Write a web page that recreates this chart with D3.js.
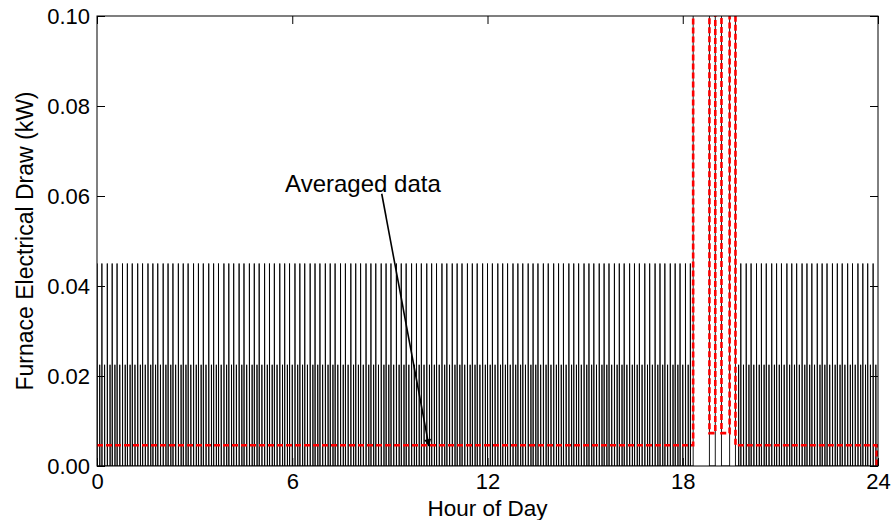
<!DOCTYPE html>
<html>
<head>
<meta charset="utf-8">
<script src="https://cdn.jsdelivr.net/npm/d3@7"></script>
<style>
  html, body { margin: 0; padding: 0; background: #fff; }
  text { font-family: "Liberation Sans", Arial, Helvetica, sans-serif; fill: #000; }
</style>
</head>
<body>
<svg id="chart" width="891" height="520"></svg>
<script>
// ---------------- DATA ----------------
// Minutes of the day at which the furnace draw spikes to the high level (~0.045 kW)
const highSpikeMinutes = [0,9,19,28,37,47,56,65,75,84,94,103,112,122,131,140,150,159,168,178,187,196,206,215,224,234,243,252,262,271,281,290,299,309,318,327,337,346,355,365,374,383,393,402,411,421,430,439,449,458,468,477,486,496,505,514,524,533,542,552,561,570,580,589,598,608,617,626,636,645,655,664,673,683,692,701,711,720,729,739,748,757,767,776,785,795,804,813,823,832,842,851,860,870,879,888,898,907,916,926,935,944,954,963,972,982,991,1000,1010,1019,1029,1038,1047,1057,1066,1075,1085,1094,
  1187,1197,1206,1216,1225,1234,1244,1253,1262,1272,1281,1290,1300,1309,1318,1328,1337,1346,1356,1365,1374,1384,1393,1403,1412,1421,1431];
// Minutes of the day at which the draw spikes to the low level (~0.0225 kW)
const lowSpikeMinutes = [5,14,24,33,42,52,61,70,80,89,99,108,117,127,136,145,155,164,173,183,192,201,211,220,229,239,248,257,267,276,286,295,304,314,323,332,342,351,360,370,379,388,398,407,416,426,435,444,454,463,473,482,491,501,510,519,529,538,547,557,566,575,585,594,603,613,622,631,641,650,660,669,678,688,697,706,716,725,734,744,753,762,772,781,790,800,809,818,828,837,847,856,865,875,884,893,903,912,921,931,940,949,959,968,977,987,996,1005,1015,1024,1034,1043,1052,1062,1071,1080,1090,
  1183,1192,1202,1211,1221,1230,1239,1249,1258,1267,1277,1286,1295,1305,1314,1323,1333,1342,1351,1361,1370,1379,1389,1398,1408,1417,1426,1436];
const highSpikeKW = 0.045;
const lowSpikeKW = 0.0225;
// Furnace running periods (hours) — draw is off the top of the chart
const furnaceOnStart = [18.32, 19.00, 19.44];
const furnaceOnEnd   = [18.82, 19.19, 19.62];
const furnaceOnKW = 0.40;
// Averaged data (step series)
const avgHours = [0, 18.32, 18.82, 19.00, 19.19, 19.44, 19.62, 23.96, 24];
const avgKW    = [0.0046, 0.40, 0.0073, 0.40, 0.0073, 0.40, 0.0046, 0, 0];
// Axes
const xTicks = [0, 6, 12, 18, 24];
const yTicks = [0, 0.02, 0.04, 0.06, 0.08, 0.10];
const xLabel = "Hour of Day";
const yLabel = "Furnace Electrical Draw (kW)";
const annotationText = "Averaged data";
const annotationTextAt = [5.78, 0.0609];   // [hour, kW]
const annotationArrowFrom = [8.75, 0.0605];
const annotationArrowTo = [10.2, 0.0044];

// ---------------- LAYOUT ----------------
(function () {
const W = 891, H = 520;
const mg = { left: 97, top: 16, right: 13, bottom: 54 };
const pw = W - mg.left - mg.right, ph = H - mg.top - mg.bottom;

const svg = d3.select("#chart");
const x = d3.scaleLinear().domain([0, 24]).range([mg.left, mg.left + pw]);
const y = d3.scaleLinear().domain([0, 0.10]).range([mg.top + ph, mg.top]);

const defs = svg.append("defs");
defs.append("clipPath").attr("id", "clip")
  .append("rect").attr("x", mg.left).attr("y", mg.top).attr("width", pw).attr("height", ph);

// Build black (raw) series
const events = [];
highSpikeMinutes.forEach(t => events.push({ t: t / 60, type: "spike", v: highSpikeKW }));
lowSpikeMinutes.forEach(t => events.push({ t: t / 60, type: "spike", v: lowSpikeKW }));
furnaceOnStart.forEach((s, i) => events.push({ t: s, type: "on", end: furnaceOnEnd[i], v: furnaceOnKW }));
events.sort((a, b) => a.t - b.t);
const raw = [{ h: 0, v: 0 }];
events.forEach(e => {
  if (e.type === "spike") {
    raw.push({ h: e.t, v: 0 }, { h: e.t, v: e.v }, { h: e.t + 0.3 / 60, v: 0 });
  } else {
    raw.push({ h: e.t, v: 0 }, { h: e.t, v: e.v }, { h: e.end, v: e.v }, { h: e.end, v: 0 });
  }
});
raw.push({ h: 24, v: 0 });

const plot = svg.append("g").attr("clip-path", "url(#clip)");
plot.append("path")
  .datum(raw)
  .attr("fill", "none")
  .attr("stroke", "#000")
  .attr("stroke-width", 0.9)
  .attr("d", d3.line().x(d => x(d.h)).y(d => y(d.v)));

const avg = avgHours.map((h, i) => ({ h, v: avgKW[i] }));
plot.append("path")
  .datum(avg)
  .attr("fill", "none")
  .attr("stroke", "#ff0000")
  .attr("stroke-width", 2.6)
  .attr("stroke-dasharray", "6,3")
  .attr("d", d3.line().curve(d3.curveStepAfter).x(d => x(d.h)).y(d => y(d.v)));

// ---------------- AXES (MATLAB-style box, inward ticks) ----------------
const tickLen = 8;
const axG = svg.append("g");
axG.append("rect").attr("x", mg.left).attr("y", mg.top).attr("width", pw).attr("height", ph)
  .attr("fill", "none").attr("stroke", "#000").attr("stroke-width", 1);

const axBottom = d3.axisBottom(x).tickValues(xTicks).tickFormat(d3.format("d"))
  .tickSizeInner(-tickLen).tickSizeOuter(0).tickPadding(7);
const gb = axG.append("g").attr("transform", `translate(0,${mg.top + ph})`).call(axBottom);
const axTop = d3.axisTop(x).tickValues(xTicks).tickFormat("").tickSizeInner(-tickLen).tickSizeOuter(0);
const gt = axG.append("g").attr("transform", `translate(0,${mg.top})`).call(axTop);
const axLeft = d3.axisLeft(y).tickValues(yTicks).tickFormat(d3.format(".2f"))
  .tickSizeInner(-tickLen).tickSizeOuter(0).tickPadding(7);
const gl = axG.append("g").attr("transform", `translate(${mg.left},0)`).call(axLeft);
const axRight = d3.axisRight(y).tickValues(yTicks).tickFormat("").tickSizeInner(-tickLen).tickSizeOuter(0);
const gr = axG.append("g").attr("transform", `translate(${mg.left + pw},0)`).call(axRight);

[gb, gt, gl, gr].forEach(g => {
  g.select(".domain").remove();
  g.selectAll(".tick line").attr("stroke", "#000");
  g.selectAll("text").style("font-size", "22px").attr("fill", "#000")
    .style("font-family", '"Liberation Sans", Arial, sans-serif');
});

// Axis titles
svg.append("text").attr("x", x(12)).attr("y", 515.5)
  .attr("text-anchor", "middle").style("font-size", "22.5px").text(xLabel);
svg.append("text")
  .attr("transform", `translate(33,${mg.top + ph / 2}) rotate(-90)`)
  .attr("text-anchor", "middle").style("font-size", "23px").text(yLabel);

// Annotation
defs.append("marker").attr("id", "arrow").attr("viewBox", "0 0 10 10")
  .attr("refX", 10).attr("refY", 5).attr("markerWidth", 10).attr("markerHeight", 7)
  .attr("markerUnits", "userSpaceOnUse").attr("orient", "auto")
  .append("path").attr("d", "M0,0 L10,5 L0,10 z").attr("fill", "#000");
svg.append("line")
  .attr("x1", x(annotationArrowFrom[0])).attr("y1", y(annotationArrowFrom[1]))
  .attr("x2", x(annotationArrowTo[0])).attr("y2", y(annotationArrowTo[1]))
  .attr("stroke", "#000").attr("stroke-width", 1.6).attr("marker-end", "url(#arrow)");
svg.append("text").attr("x", x(annotationTextAt[0])).attr("y", y(annotationTextAt[1]))
  .style("font-size", "24px").text(annotationText);
})();
</script>
</body>
</html>
